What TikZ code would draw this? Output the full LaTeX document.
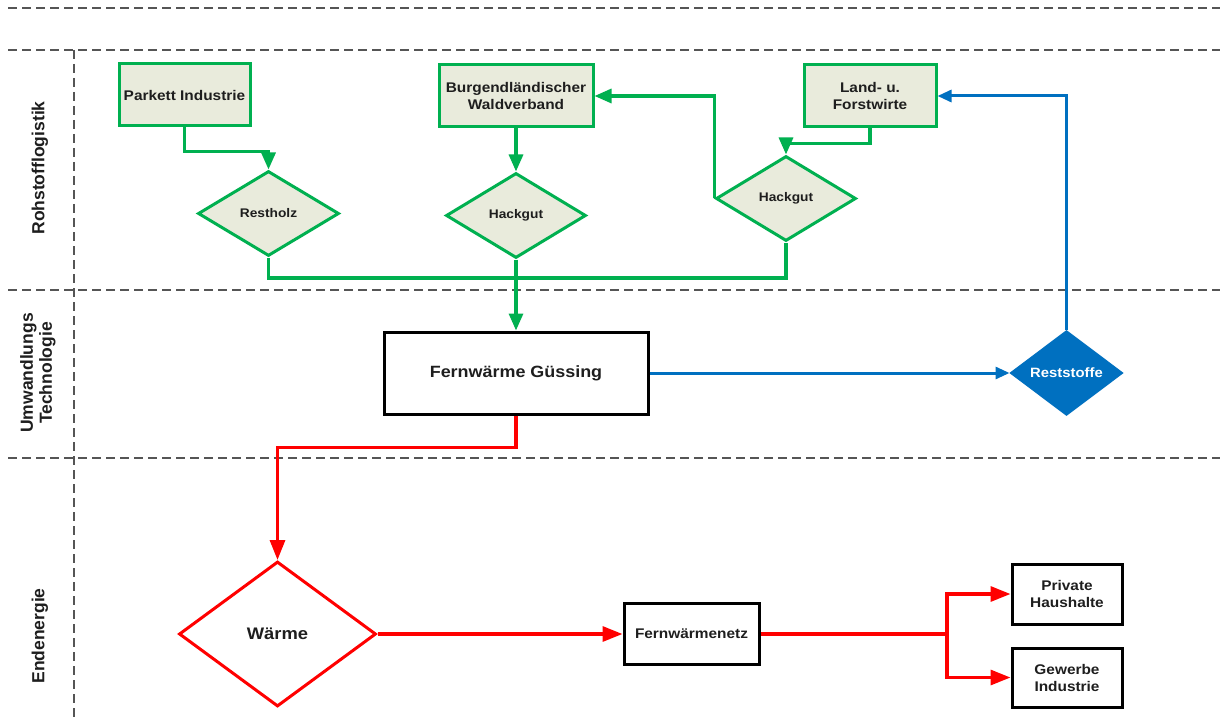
\documentclass[tikz,border=0pt]{standalone}
\usepackage{fontspec}
\setmainfont{Liberation Sans}[FakeStretch=1.1]
\newfontfamily\lanefont{Liberation Sans}
\usetikzlibrary{shapes.geometric,arrows.meta,calc}
\definecolor{gr}{RGB}{0,176,80}
\definecolor{gfill}{RGB}{233,235,220}
\definecolor{bl}{RGB}{0,112,192}
\definecolor{rd}{RGB}{255,0,0}
\definecolor{txt}{RGB}{30,30,30}
\definecolor{lanec}{RGB}{85,85,85}
\begin{document}
\begin{tikzpicture}[x=1pt,y=1pt,
 lanesep/.style={draw=lanec,line width=1.5pt,dash pattern=on 9pt off 5pt},
 gbox/.style={draw=gr,fill=gfill,line width=3pt,rectangle,inner sep=0pt,align=center,text=txt,font=\bfseries\fontsize{14}{17}\selectfont},
 gdia/.style={draw=gr,fill=gfill,line width=3pt,diamond,inner sep=0pt,text=txt,font=\bfseries\fontsize{12.5}{15}\selectfont},
 kbox/.style={draw=black,fill=white,line width=3pt,rectangle,inner sep=0pt,align=center,text=txt,font=\bfseries\fontsize{14}{17}\selectfont},
 gline/.style={draw=gr,line width=3.2pt},
 garrow/.style={gline,-{Triangle[length=17pt,width=14pt]}},
 barrow/.style={draw=bl,line width=3pt,-{Triangle[length=14pt,width=12pt]}},
 rline/.style={draw=rd,line width=3.2pt},
 rarrow/.style={rline,-{Triangle[length=20pt,width=15pt]}},
 lanelabel/.style={rotate=90,align=center,text=txt,font=\lanefont\bfseries\fontsize{17.5}{19}\selectfont}
]
\useasboundingbox (0,0) rectangle (1220,-722);
\fill[white] (0,0) rectangle (1220,-722);

% swimlane separators
\coordinate (h1a) at (8,-8);    \coordinate (h1b) at (1220,-8);
\coordinate (h2a) at (8,-50);   \coordinate (h2b) at (1220,-50);
\coordinate (h3a) at (8,-290);  \coordinate (h3b) at (1220,-290);
\coordinate (h4a) at (8,-458);  \coordinate (h4b) at (1220,-458);
\coordinate (v1a) at (74,-50);  \coordinate (v1b) at (74,-722);
\draw[lanesep] (h1a) -- (h1b);
\draw[lanesep] (h2a) -- (h2b);
\draw[lanesep] (h3a) -- (h3b);
\draw[lanesep] (h4a) -- (h4b);
\draw[lanesep] (v1a) -- (v1b);

% lane labels
\node[lanelabel] (l1) at (40,-168) {Rohstofflogistik};
\node[lanelabel] (l2) at (38,-373) {Umwandlungs\\Technologie};
\node[lanelabel] (l3) at (40,-636) {Endenergie};

% Rohstofflogistik
\node[gbox,minimum width=131pt,minimum height=62pt] (park) at (184.5,-95) {Parkett Industrie};
\node[gdia,minimum width=141pt,minimum height=85pt] (restholz) at (268.5,-213.5) {Restholz};
\node[gbox,minimum width=154pt,minimum height=62pt] (burg) at (516,-96) {Burgendländischer\\Waldverband};
\node[gdia,minimum width=140pt,minimum height=85pt] (hack1) at (516,-215.5) {Hackgut};
\node[gdia,minimum width=140pt,minimum height=85pt] (hack2) at (786,-198.5) {Hackgut};
\node[gbox,minimum width=132pt,minimum height=62pt] (land) at (870,-96) {Land- u.\\Forstwirte};

% Umwandlung
\node[kbox,minimum width=264pt,minimum height=82pt,font=\bfseries\fontsize{16.3}{19}\selectfont] (fern) at (516,-373) {Fernwärme Güssing};
\node[diamond,fill=bl,draw=bl,line width=1pt,inner sep=0pt,minimum width=113pt,minimum height=85pt,text=white,font=\bfseries\fontsize{13.5}{16}\selectfont] (rest) at (1066.5,-373) {Reststoffe};

% Endenergie
\node[diamond,draw=rd,fill=white,line width=3pt,inner sep=0pt,minimum width=197pt,minimum height=145pt,text=txt,font=\bfseries\fontsize{16.7}{19}\selectfont] (waerme) at (277.5,-634) {Wärme};
\node[kbox,minimum width=135pt,minimum height=61pt] (netz) at (691.5,-634) {Fernwärmenetz};
\node[kbox,minimum width=110pt,minimum height=60pt] (priv) at (1067,-594) {Private\\Haushalte};
\node[kbox,minimum width=110pt,minimum height=59pt] (gew) at (1067,-677.5) {Gewerbe\\Industrie};

% green connectors
\draw[garrow] (park.south) -- ++(0,-24) -| (restholz.north);
\draw[garrow] (burg.south) -- (hack1.north);
\draw[garrow] (land.south) -- ++(0,-15) -| (hack2.north);
\draw[garrow] (hack2.west) |- (burg.east);
\coordinate (mrg) at (516,-278);
\draw[gline] (restholz.south) |- (mrg) -| (hack2.south);
\draw[garrow] (hack1.south) -- (fern.north);

% blue connectors
\draw[barrow] (fern.east) -- (rest.west);
\draw[barrow] (rest.north) |- (land.east);

% red connectors
\draw[rarrow] (fern.south) -- ++(0,-32) -| (waerme.north);
\draw[rarrow] (waerme.east) -- (netz.west);
\coordinate (jn) at (947,-634);
\draw[rline] (netz.east) -- (jn);
\draw[rarrow] (jn) |- (priv.west);
\draw[rarrow] (jn) |- (gew.west);
\end{tikzpicture}
\end{document}
